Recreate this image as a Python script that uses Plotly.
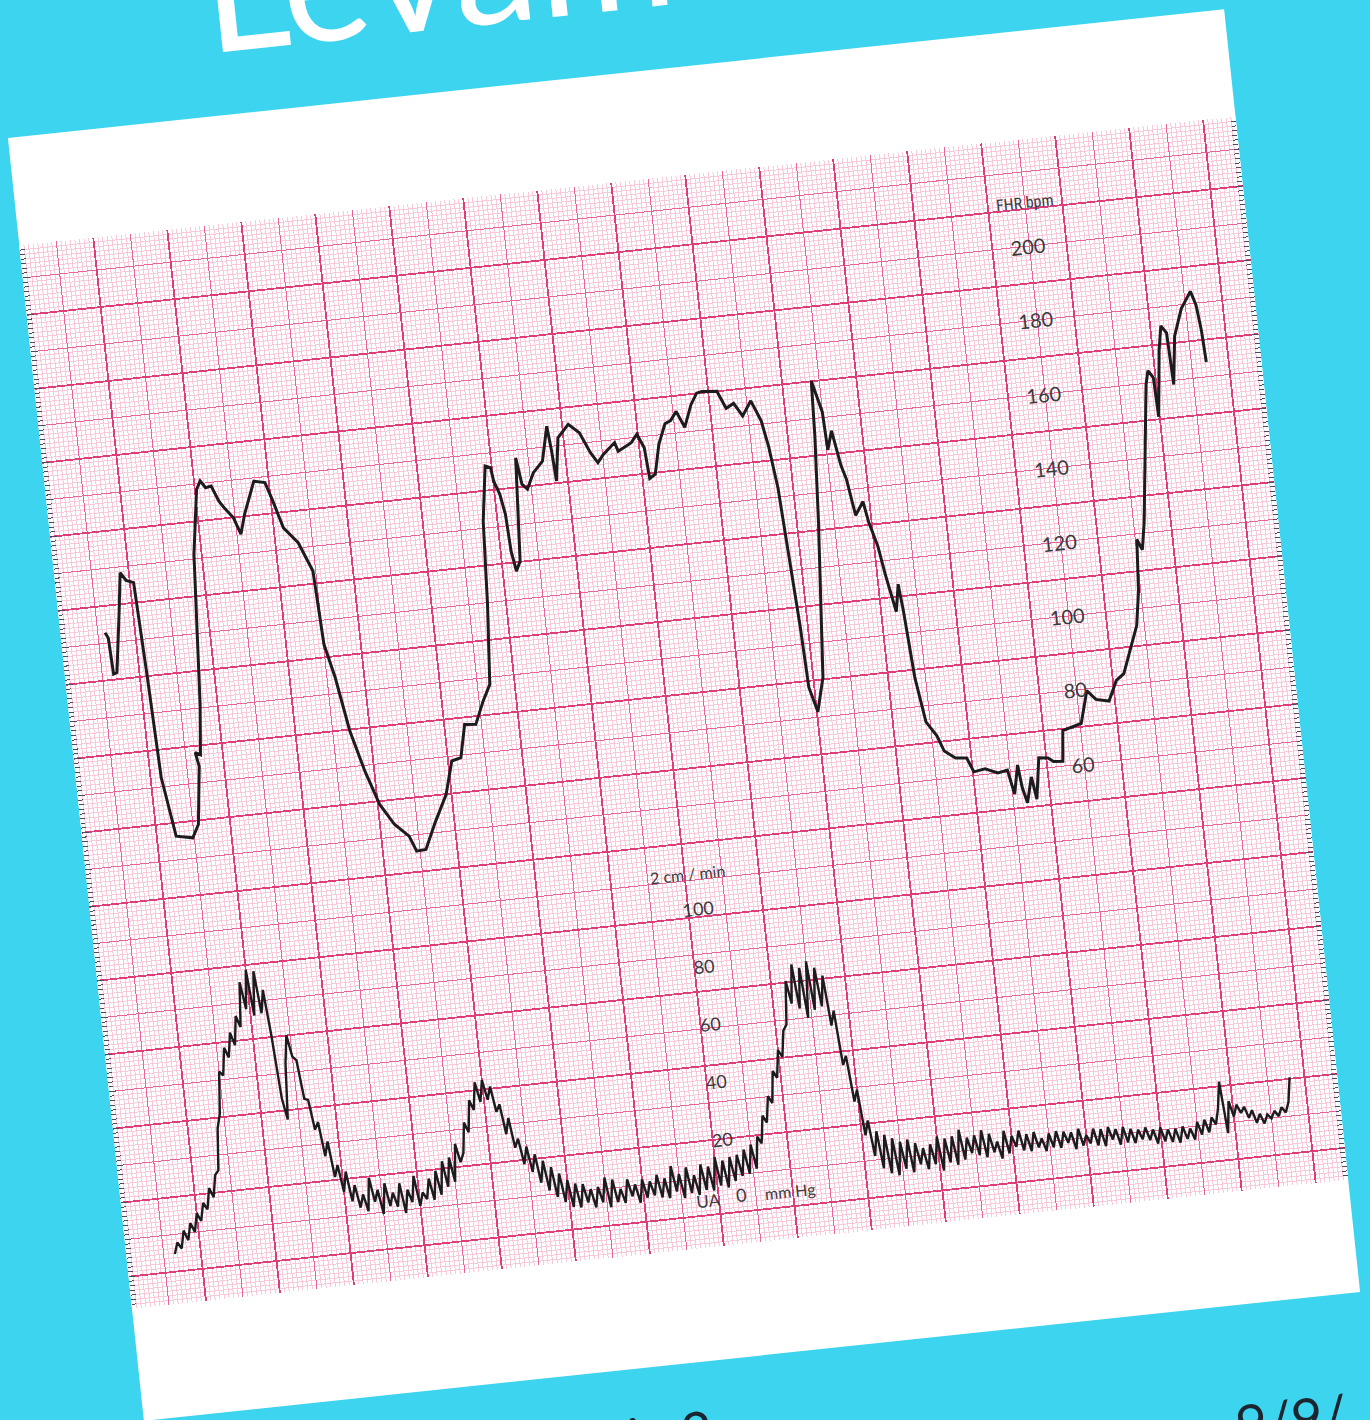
import plotly.graph_objects as go

# ---------------- data ----------------
# Fetal heart rate trace: time (s from left edge of the strip) and bpm
fhr_time_s = [17.9, 19.0, 19.6, 21.0, 24.5, 26.5, 28.6, 31.5, 32.9, 34.3,
              37.8, 44.4, 47.2, 50.0, 49.0, 51.0, 53.0, 56.9, 60.7, 62.5,
              64.4, 66.7, 69.1, 71.0, 74.3, 76.6, 78.9, 84.0, 88.4, 90.6,
              93.9, 99.2, 103.9, 105.2, 108.3, 111.9, 116.2, 120.7, 125.8, 131.2,
              133.6, 137.4, 142.2, 147.8, 151.5, 155.3, 158.2, 162.7, 166.6, 170.0,
              172.5, 174.3, 177.4, 179.5, 180.2, 182.1, 183.5, 184.2, 185.5, 187.4,
              190.0, 191.4, 193.4, 196.4, 200.6, 203.8, 204.7, 205.4, 207.8, 212.5,
              216.6, 220.2, 222.8, 225.4, 230.3, 231.4, 237.0, 239.6, 242.0, 242.9,
              245.3, 248.0, 251.3, 253.7, 256.3, 259.1, 262.5, 265.3, 267.5, 273.5,
              276.5, 279.7, 282.8, 286.7, 290.0, 291.9, 293.9, 295.4, 296.9, 297.8,
              300.4, 303.9, 308.7, 310.9, 311.8, 314.9, 315.5, 317.8, 320.1, 321.7,
              323.9, 327.4, 328.8, 331.5, 333.2, 336.1, 338.0, 339.0, 340.7, 343.3,
              347.1, 349.4, 353.6, 358.1, 360.4, 365.0, 370.0, 373.9, 375.8, 378.2,
              379.1, 380.6, 383.2, 384.5, 387.0, 390.7, 392.8, 396.5, 397.8, 405.5,
              409.1, 412.4, 417.6, 421.4, 424.7, 427.8, 431.9, 434.1, 435.6, 437.4,
              439.3, 445.9, 447.2, 449.1, 449.6, 452.6, 454.3, 456.3, 457.0, 459.4,
              463.2, 467.6, 469.3, 470.4, 471.0]
fhr_bpm = [122.8, 121.3, 111.5, 111.8, 128.2, 138.4, 136.2, 135.4, 111.4, 82.5,
           66.4, 65.5, 68.9, 84.4, 88.2, 87.5, 101.0, 141.2, 158.5, 160.7,
           158.7, 159.0, 154.8, 152.8, 149.9, 145.3, 150.5, 159.1, 158.4, 153.7,
           145.8, 141.4, 133.4, 113.5, 104.3, 89.6, 78.5, 69.2, 63.4, 59.8,
           55.6, 55.8, 62.7, 69.9, 78.7, 79.3, 88.1, 87.8, 93.8, 98.1,
           119.6, 141.9, 156.6, 156.0, 152.3, 148.6, 143.1, 133.1, 127.6, 130.2,
           157.9, 150.7, 149.2, 153.4, 156.3, 165.5, 158.7, 150.6, 162.1, 165.4,
           162.8, 157.2, 154.3, 156.4, 159.2, 156.8, 158.7, 160.8, 157.0, 148.6,
           149.6, 157.5, 162.8, 163.5, 165.8, 161.3, 167.1, 170.1, 170.4, 170.0,
           165.2, 166.3, 162.7, 166.5, 160.9, 153.8, 142.5, 123.8, 105.1, 88.3,
           81.5, 90.6, 132.2, 155.3, 170.1, 161.5, 151.2, 156.2, 146.7, 142.9,
           132.9, 136.4, 130.8, 124.0, 116.5, 106.0, 113.3, 105.8, 88.0, 75.7,
           71.7, 67.4, 65.2, 64.9, 61.0, 61.5, 60.0, 60.5, 53.9, 61.6,
           55.5, 51.2, 58.0, 51.9, 62.9, 62.6, 61.5, 61.3, 69.5, 70.9,
           79.5, 76.9, 76.1, 81.4, 83.0, 88.4, 95.5, 104.7, 118.5, 115.6,
           123.0, 159.7, 163.3, 161.3, 150.7, 168.5, 174.9, 172.9, 158.9, 171.8,
           178.9, 183.3, 179.5, 172.4, 164.0]

# Uterine activity trace, read every 1.5 s (mmHg)
ua_first_sample_s = 19.5
ua_sample_step_s = 1.5
ua_mmhg = [0.3, 4.2, 2.0, 8.1, 4.6, 10.4, 7.2, 13.5, 10.8, 16.9,
           14.5, 21.8, 18.5, 26.0, 27.5, 42.0, 47.0, 61.5, 60.0, 69.5,
           66.0, 74.5, 70.0, 80.0, 76.0, 91.5, 82.0, 95.5, 79.5, 94.8,
           80.0, 88.0, 72.0, 50.0, 42.5, 62.0, 71.5, 64.0, 62.5, 49.0,
           48.5, 38.0, 40.5, 28.5, 33.5, 21.0, 25.0, 15.5, 22.5, 12.0,
           17.5, 9.5, 14.0, 8.0, 19.5, 11.0, 15.0, 6.5, 17.0, 9.0,
           13.5, 8.5, 16.5, 6.0, 14.0, 9.5, 18.5, 8.0, 12.5, 10.0,
           17.0, 9.5, 19.5, 11.0, 22.5, 13.5, 23.5, 15.0, 28.0, 21.5,
           24.5, 35.0, 31.5, 42.5, 39.0, 48.5, 41.5, 49.0, 42.0, 46.5,
           37.5, 40.0, 29.5, 35.0, 24.5, 27.5, 18.5, 24.5, 15.5, 21.5,
           11.5, 19.0, 8.5, 16.5, 6.0, 14.0, 4.0, 11.5, 2.0, 10.0,
           1.5, 9.5, 3.0, 7.5, 1.0, 8.0, 2.5, 11.0, 0.5, 10.0,
           2.0, 6.5, 1.5, 9.5, 3.5, 7.5, 1.0, 9.0, 2.5, 8.0,
           3.0, 10.0, 2.0, 8.5, 1.5, 12.5, 3.5, 9.5, 1.0, 11.5,
           2.5, 8.5, 1.5, 12.0, 3.0, 11.0, 2.5, 14.0, 4.0, 12.5,
           3.0, 13.5, 5.0, 14.0, 6.5, 15.5, 7.0, 17.0, 8.5, 19.5,
           17.0, 26.5, 24.0, 33.0, 30.5, 41.5, 39.0, 48.5, 46.0, 55.0,
           57.0, 72.0, 64.0, 77.5, 62.0, 76.0, 58.5, 78.0, 61.0, 75.5,
           62.0, 72.5, 55.0, 60.0, 41.0, 44.0, 28.0, 32.0, 16.0, 21.0,
           8.5, 17.0, 4.0, 15.5, 2.0, 14.0, 1.0, 12.5, 3.0, 13.0,
           1.5, 11.5, 4.0, 9.5, 2.0, 10.5, 3.5, 13.0, 1.0, 12.0,
           3.5, 12.5, 2.5, 14.5, 4.0, 11.5, 6.0, 12.0, 5.0, 13.5,
           4.0, 12.0, 5.5, 9.0, 3.0, 12.5, 4.5, 10.5, 6.5, 12.0,
           5.0, 10.5, 4.5, 11.0, 5.5, 8.5, 4.0, 10.0, 5.0, 10.5,
           4.5, 10.0, 6.0, 9.5, 3.5, 10.5, 4.5, 8.0, 5.0, 10.0,
           4.0, 9.5, 3.5, 10.0, 5.5, 9.0, 3.5, 9.5, 4.0, 8.5,
           3.5, 8.0, 4.5, 8.5, 4.0, 7.5, 2.5, 8.0, 3.0, 7.0,
           2.5, 7.0, 2.0, 7.5, 3.0, 6.5, 2.5, 8.5, 4.0, 9.0,
           4.5, 9.5, 7.0, 12.5, 21.5, 3.5, 14.5, 9.0, 13.0, 10.0,
           12.0, 8.0, 10.5, 6.0, 9.0, 5.5, 8.5, 7.0, 9.5, 7.5,
           10.5, 8.5, 12.0, 20.5]
ua_time_s = [ua_first_sample_s + ua_sample_step_s * i for i in range(len(ua_mmhg))]

# printed scale labels on the paper
fhr_scale_labels = [200, 180, 160, 140, 120, 100, 80, 60]
ua_scale_labels = [100, 80, 60, 40, 20]

# ---------------- page geometry (pixels of the un-rotated sheet) ----------------
FIG = 2000
PAPER_W, PAPER_H = 1223, 1290
PX0 = (FIG - PAPER_W) / 2
PY0 = (FIG - PAPER_H) / 2
GRID_TOP, GRID_BOTTOM = 108, 1177
PX_PER_S = 148.8 / 60.0
PX_PER_BPM = 3.72
V_BPM200 = 215.0
PX_PER_MMHG = 2.89
V_MMHG0 = 1128.3

x_range = [0, PAPER_W / PX_PER_S]
fhr_range = [200 - (GRID_BOTTOM - V_BPM200) / PX_PER_BPM, 200 + (V_BPM200 - GRID_TOP) / PX_PER_BPM]
ua_range = [(V_MMHG0 - GRID_BOTTOM) / PX_PER_MMHG, (V_MMHG0 - GRID_TOP) / PX_PER_MMHG]

x_dom = [PX0 / FIG, (PX0 + PAPER_W) / FIG]
y_dom = [1 - (PY0 + GRID_BOTTOM) / FIG, 1 - (PY0 + GRID_TOP) / FIG]

CYAN = "#3dd4ef"
THICK = "#de3d79"
MEDIUM = "#e9639a"
MINOR = "#f6bdd3"
INK = "#1c1c1e"
LABEL = "#3a3a3c"

fig = go.Figure()
fig.add_trace(go.Scatter(x=[None], y=[None], xaxis="x2", yaxis="y2",
                         mode="lines", showlegend=False, hoverinfo="skip"))
fig.add_trace(go.Scatter(x=ua_time_s, y=ua_mmhg, xaxis="x", yaxis="y3", mode="lines",
                         line=dict(color=INK, width=2.4), showlegend=False,
                         hoverinfo="skip"))
fig.add_trace(go.Scatter(x=fhr_time_s, y=fhr_bpm, xaxis="x", yaxis="y", mode="lines",
                         line=dict(color=INK, width=3.0), showlegend=False,
                         hoverinfo="skip"))

common = dict(showticklabels=False, zeroline=False, showline=False, fixedrange=True)

annotations = []
for v in fhr_scale_labels:
    annotations.append(dict(x=404.5, y=v, xref="x", yref="y", text=str(v), showarrow=False,
                            font=dict(family="Lato, Noto Sans, sans-serif", size=20, color=LABEL)))
annotations.append(dict(x=405.0, y=211.6, xref="x", yref="y", text="FHR bpm", showarrow=False,
                        font=dict(family="Liberation Sans Narrow, Roboto Condensed, Liberation Sans, sans-serif",
                                  size=16, color=LABEL)))
for v in ua_scale_labels:
    annotations.append(dict(x=244.0, y=v, xref="x", yref="y3", text=str(v), showarrow=False,
                            font=dict(family="Lato, Noto Sans, sans-serif", size=18, color=LABEL)))
annotations.append(dict(x=241.4, y=112.3, xref="x", yref="y3", text="2 cm / min", showarrow=False,
                        font=dict(family="Lato, Noto Sans, sans-serif", size=16, color=LABEL)))
annotations.append(dict(x=235.5, y=-0.8, xref="x", yref="y3", text="UA", showarrow=False,
                        font=dict(family="Lato, Noto Sans, sans-serif", size=17, color=LABEL)))
annotations.append(dict(x=249.0, y=0.0, xref="x", yref="y3", text="0", showarrow=False,
                        font=dict(family="Lato, Noto Sans, sans-serif", size=18, color=LABEL)))
annotations.append(dict(x=269.0, y=-0.5, xref="x", yref="y3", text="mm Hg", showarrow=False,
                        font=dict(family="Lato, Noto Sans, sans-serif", size=16, color=LABEL)))
# magazine text around the sheet
annotations.append(dict(x=594 / FIG, y=1 - 227 / FIG, xref="paper", yref="paper", text="Levamos",
                        showarrow=False, xanchor="left", yanchor="middle",
                        font=dict(family="Lato, Noto Sans, sans-serif", size=168, color="white")))
annotations.append(dict(x=866 / FIG, y=1 - 1678 / FIG, xref="paper", yref="paper", text="ia 2",
                        showarrow=False, xanchor="left", yanchor="top",
                        font=dict(family="Lato, Noto Sans, sans-serif", size=54, color="#1b2630")))
annotations.append(dict(x=1472 / FIG, y=1 - 1729 / FIG, xref="paper", yref="paper", text="9/9/",
                        showarrow=False, xanchor="left", yanchor="top",
                        font=dict(family="Lato, Noto Sans, sans-serif", size=54, color="#1b2630")))

fig.update_layout(
    width=FIG, height=FIG, autosize=False,
    margin=dict(l=0, r=0, t=0, b=0, pad=0),
    paper_bgcolor=CYAN, plot_bgcolor="white",
    showlegend=False,
    xaxis=dict(domain=x_dom, range=x_range, anchor="y", showgrid=True, dtick=15, tick0=0,
               gridcolor=MEDIUM, gridwidth=1.0,
               minor=dict(dtick=1.875, tick0=0, showgrid=True, gridcolor=MINOR, gridwidth=0.8),
               **common),
    yaxis=dict(domain=y_dom, range=fhr_range, anchor="x", showgrid=True, dtick=10, tick0=0,
               gridcolor=MEDIUM, gridwidth=1.0,
               ticks="inside", ticklen=7, tickwidth=1, tickcolor="#4a4a66",
               minor=dict(dtick=1.25, tick0=0, showgrid=True, gridcolor=MINOR, gridwidth=0.8,
                          ticks="inside", ticklen=5, tickcolor="#4a4a66"),
               **common),
    xaxis2=dict(overlaying="x", range=x_range, anchor="y2", showgrid=True, dtick=30, tick0=0,
                gridcolor=THICK, gridwidth=1.8, **common),
    yaxis2=dict(overlaying="y", range=fhr_range, anchor="x2", side="right", showgrid=True,
                dtick=20, tick0=10, gridcolor=THICK, gridwidth=1.8,
                ticks="inside", ticklen=7, tickwidth=1, tickcolor="#4a4a66",
                minor=dict(dtick=1.25, tick0=0, ticks="inside", ticklen=5, tickcolor="#4a4a66"),
                **common),
    yaxis3=dict(overlaying="y", range=ua_range, anchor="x", showgrid=False, **common),
    shapes=[dict(type="rect", xref="paper", yref="paper", layer="below",
                 x0=PX0 / FIG, x1=(PX0 + PAPER_W) / FIG,
                 y0=1 - (PY0 + PAPER_H) / FIG, y1=1 - PY0 / FIG,
                 fillcolor="white", line=dict(width=0))],
    annotations=annotations,
)

# the photographed sheet is turned ~6 degrees counter-clockwise on the page
post = """
var gd = document.getElementById('{plot_id}');
var wrap = gd.parentElement;
document.documentElement.style.margin='0';
document.documentElement.style.overflow='hidden';
document.documentElement.style.background='%s';
document.body.style.margin='0';
document.body.style.overflow='hidden';
document.body.style.background='%s';
wrap.style.position='relative';
wrap.style.width='1370px';
wrap.style.height='1420px';
wrap.style.overflow='hidden';
gd.style.position='absolute';
gd.style.left='%.1fpx';
gd.style.top='%.1fpx';
gd.style.transformOrigin='50%% 50%%';
gd.style.transform='rotate(-6.05deg)';
""" % (CYAN, CYAN, 683.5 - FIG / 2, 715.0 - FIG / 2)

fig.write_html("out.html", include_plotlyjs=True, full_html=True, post_script=post,
               config={"displayModeBar": False, "staticPlot": True, "responsive": False})
